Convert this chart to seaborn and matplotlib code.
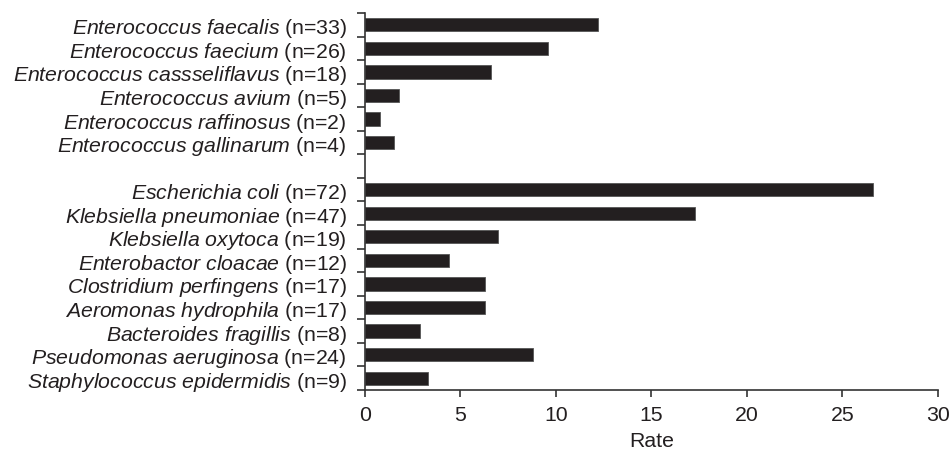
import matplotlib
matplotlib.use("Agg")
import matplotlib.pyplot as plt
import seaborn as sns
import pandas as pd
import numpy as np

species = ["Enterococcus faecalis", "Enterococcus faecium", "Enterococcus cassseliflavus",
           "Enterococcus avium", "Enterococcus raffinosus", "Enterococcus gallinarum",
           "Escherichia coli", "Klebsiella pneumoniae", "Klebsiella oxytoca",
           "Enterobactor cloacae", "Clostridium perfingens", "Aeromonas hydrophila",
           "Bacteroides fragillis", "Pseudomonas aeruginosa", "Staphylococcus epidermidis"]
n_counts = [33, 26, 18, 5, 2, 4, 72, 47, 19, 12, 17, 17, 8, 24, 9]
rates = [12.2, 9.6, 6.6, 1.8, 0.8, 1.5, 26.6, 17.3, 6.95, 4.4, 6.3, 6.3, 2.9, 8.8, 3.3]

sns.set_style("ticks")
plt.rcParams["font.family"] = ["Liberation Sans", "DejaVu Sans"]
plt.rcParams["mathtext.fontset"] = "custom"
plt.rcParams["mathtext.rm"] = "Liberation Sans"
plt.rcParams["mathtext.it"] = "Liberation Sans:italic"

labels = [r"$\mathit{%s}$ (n=%d)" % (s.replace(" ", r"\ "), n) for s, n in zip(species, n_counts)]
df = pd.DataFrame({"label": labels, "rate": rates})
# empty slot between the two groups
order = labels[:6] + [" "] + labels[6:]

fig = plt.figure(figsize=(9.51, 4.52), dpi=100)
ax = fig.add_axes([0.3838, 0.135, 0.6025, 0.834])
sns.barplot(data=df, y="label", x="rate", order=order, color="#231f20",
            saturation=1, width=0.56, edgecolor="#555555", linewidth=0.6, ax=ax)

ax.set_xlim(0, 30)
ax.set_ylim(len(order) - 0.5, -0.5)
ax.set_xticks(range(0, 31, 5))
ax.set_yticks(np.arange(-0.5, len(order), 1.0), minor=True)
ax.tick_params(axis="y", which="major", length=0, labelsize=15.3, pad=13, colors="#231f20")
ax.tick_params(axis="y", which="minor", length=6, width=1.2, color="#333333")
ax.tick_params(axis="x", length=5, width=1.2, color="#333333", labelsize=15.3, pad=6,
               labelcolor="#231f20")
ax.set_ylabel("")
ax.set_xlabel("Rate", fontsize=15.3, labelpad=5, color="#231f20")
sns.despine(ax=ax)
for sp in ["left", "bottom"]:
    ax.spines[sp].set_linewidth(1.2)
    ax.spines[sp].set_color("#333333")

fig.savefig("out.png", dpi=100)
